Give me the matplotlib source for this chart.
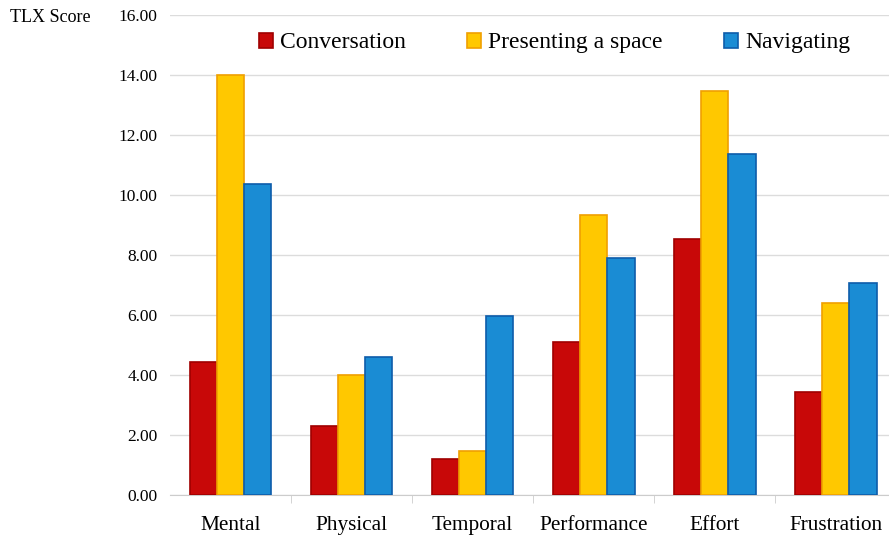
import matplotlib
matplotlib.use('Agg')
import matplotlib.pyplot as plt
import numpy as np

categories = ['Mental', 'Physical', 'Temporal', 'Performance', 'Effort', 'Frustration']
series_names = ['Conversation', 'Presenting a space', 'Navigating']
conversation = [4.43, 2.30, 1.20, 5.10, 8.53, 3.43]
presenting = [14.00, 4.00, 1.47, 9.33, 13.47, 6.40]
navigating = [10.37, 4.60, 5.97, 7.90, 11.37, 7.07]
yticks = [0, 2, 4, 6, 8, 10, 12, 14, 16]

face = ['#c80808', '#ffc800', '#1a8cd4']
edge = ['#a00000', '#f0a000', '#0d5caa']

plt.rcParams['font.family'] = ['Liberation Serif', 'DejaVu Serif']

fig = plt.figure(figsize=(8.89, 5.36), dpi=100)
ax = fig.add_axes([170/889, 1-495/536, 1-170/889, (495-15)/536])

x = np.arange(len(categories))
w = 0.225
for i, vals in enumerate([conversation, presenting, navigating]):
    ax.bar(x + (i-1)*w, vals, w, color=face[i], edgecolor=edge[i], linewidth=1.2,
           label=series_names[i], zorder=3)

ax.set_ylim(0, 16)
ax.set_xlim(-0.5, 5.44)
ax.set_yticks(yticks)
ax.set_yticklabels(['%.2f' % v for v in yticks], fontsize=12.5)
ax.yaxis.grid(True, color='#dcdcdc', linewidth=1, zorder=0)
ax.set_xticks(x)
ax.set_xticklabels(categories, fontsize=15.3)
ax.set_xticks(np.arange(0.5, 5.5, 1), minor=True)
ax.tick_params(axis='x', which='major', length=0, pad=15)
ax.tick_params(axis='x', which='minor', length=6, color='#cccccc', direction='out')
ax.tick_params(axis='y', length=0, pad=9)
for s in ['top', 'right', 'left']:
    ax.spines[s].set_visible(False)
ax.spines['bottom'].set_color('#cccccc')

fig.text(10/889, 1-17/536, 'TLX Score', fontsize=13, ha='left', va='center')

ax.legend(ncol=3, loc='center', bbox_to_anchor=(0.535, 0.942), frameon=False,
          fontsize=17, handlelength=0.6, handleheight=0.6, handletextpad=0.3,
          columnspacing=2.6)

fig.savefig('out.png', dpi=100)
